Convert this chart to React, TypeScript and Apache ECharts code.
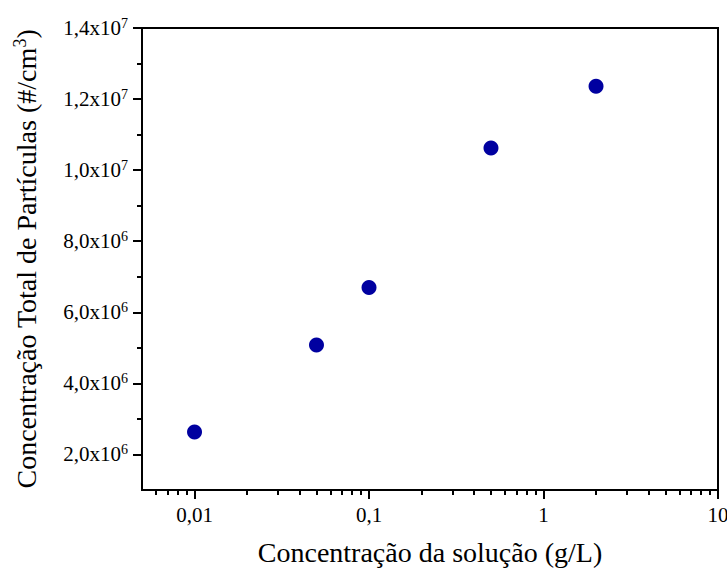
import React, { useEffect, useRef } from "react";
import * as echarts from "echarts";

const solutionConc = [0.01, 0.05, 0.1, 0.5, 2];
const particleConc = [2.63e6, 5.08e6, 6.7e6, 1.062e7, 1.236e7];
const xMajorTicks = [0.01, 0.1, 1, 10];
const xMajorLabels = ["0,01", "0,1", "1", "10"];
const xMinorTicks = [
  0.006, 0.007, 0.008, 0.009,
  0.02, 0.03, 0.04, 0.05, 0.06, 0.07, 0.08, 0.09,
  0.2, 0.3, 0.4, 0.5, 0.6, 0.7, 0.8, 0.9,
  2, 3, 4, 5, 6, 7, 8, 9,
];
const yMajorTicks = [2e6, 4e6, 6e6, 8e6, 1e7, 1.2e7, 1.4e7];
const yMajorLabels = ["2,0x10|6", "4,0x10|6", "6,0x10|6", "8,0x10|6", "1,0x10|7", "1,2x10|7", "1,4x10|7"];
const yMinorTicks = [3e6, 5e6, 7e6, 9e6, 1.1e7, 1.3e7];

const FONT = "Liberation Serif";

export default function App() {
  const ref = useRef<HTMLDivElement>(null);
  useEffect(() => {
    const chart = echarts.init(ref.current!, null, { renderer: "svg" });
    const supRich = {
      b: { fontFamily: FONT, fontSize: 21, color: "#000" },
      s: { fontFamily: FONT, fontSize: 14, color: "#000", verticalAlign: "bottom", padding: [0, 0, 10, 0] },
    };
    chart.setOption({
      animation: false,
      backgroundColor: "#fff",
      grid: {
        left: 142,
        right: 9,
        top: 28,
        bottom: 82,
        show: true,
        borderColor: "#000",
        borderWidth: 2,
        backgroundColor: "transparent",
        containLabel: false,
        outerBoundsMode: "none",
      },
      xAxis: [
        {
          type: "log",
          min: 0.005,
          max: 10,
          position: "bottom",
          axisLine: { show: true, lineStyle: { color: "#000", width: 2 } },
          axisTick: { show: true, customValues: xMajorTicks, length: 9, lineStyle: { color: "#000", width: 2 } },
          axisLabel: {
            show: true,
            customValues: xMajorTicks,
            formatter: (v: number) => {
              const i = xMajorTicks.findIndex((t) => Math.abs(t - v) / t < 1e-6);
              return i >= 0 ? xMajorLabels[i] : "";
            },
            fontFamily: FONT,
            fontSize: 21,
            color: "#000",
            margin: 14,
            showMinLabel: true,
            showMaxLabel: true,
          },
          splitLine: { show: false },
          name: "Concentração da solução (g/L)",
          nameLocation: "middle",
          nameGap: 48,
          nameTextStyle: { fontFamily: FONT, fontSize: 28, color: "#000" },
        },
        {
          type: "log",
          min: 0.005,
          max: 10,
          position: "bottom",
          axisLine: { show: false },
          axisTick: { show: true, customValues: xMinorTicks, length: 5, lineStyle: { color: "#000", width: 2 } },
          axisLabel: { show: false },
          splitLine: { show: false },
        },
      ],
      yAxis: [
        {
          type: "value",
          min: 1e6,
          max: 1.4e7,
          position: "left",
          axisLine: { show: true, lineStyle: { color: "#000", width: 2 } },
          axisTick: { show: true, customValues: yMajorTicks, length: 9, lineStyle: { color: "#000", width: 2 } },
          axisLabel: {
            show: true,
            customValues: yMajorTicks,
            formatter: (v: number) => {
              const i = yMajorTicks.findIndex((t) => Math.abs(t - v) / t < 1e-6);
              if (i < 0) return "";
              const [b, s] = yMajorLabels[i].split("|");
              return `{b|${b}}{s|${s}}`;
            },
            rich: supRich,
            margin: 14,
          },
          splitLine: { show: false },
          name: "{n|Concentração Total de Partículas (#/cm}{s|3}{n|)}",
          nameLocation: "middle",
          nameGap: 100,
          nameRotate: 90,
          nameTextStyle: {
            rich: {
              n: { fontFamily: FONT, fontSize: 28, color: "#000" },
              s: { fontFamily: FONT, fontSize: 18, color: "#000", verticalAlign: "bottom", padding: [0, 0, 13, 0] },
            },
          },
        },
        {
          type: "value",
          min: 1e6,
          max: 1.4e7,
          position: "left",
          axisLine: { show: false },
          axisTick: { show: true, customValues: yMinorTicks, length: 5, lineStyle: { color: "#000", width: 2 } },
          axisLabel: { show: false },
          splitLine: { show: false },
        },
      ],
      series: [
        {
          type: "scatter",
          xAxisIndex: 0,
          yAxisIndex: 0,
          symbol: "circle",
          symbolSize: 15,
          itemStyle: { color: "#0000a0", opacity: 1 },
          data: solutionConc.map((x, i) => [x, particleConc[i]]),
        },
      ],
    });
    return () => chart.dispose();
  }, []);
  return <div ref={ref} style={{ position: "absolute", left: 0, top: 0, width: 727, height: 572 }} />;
}
